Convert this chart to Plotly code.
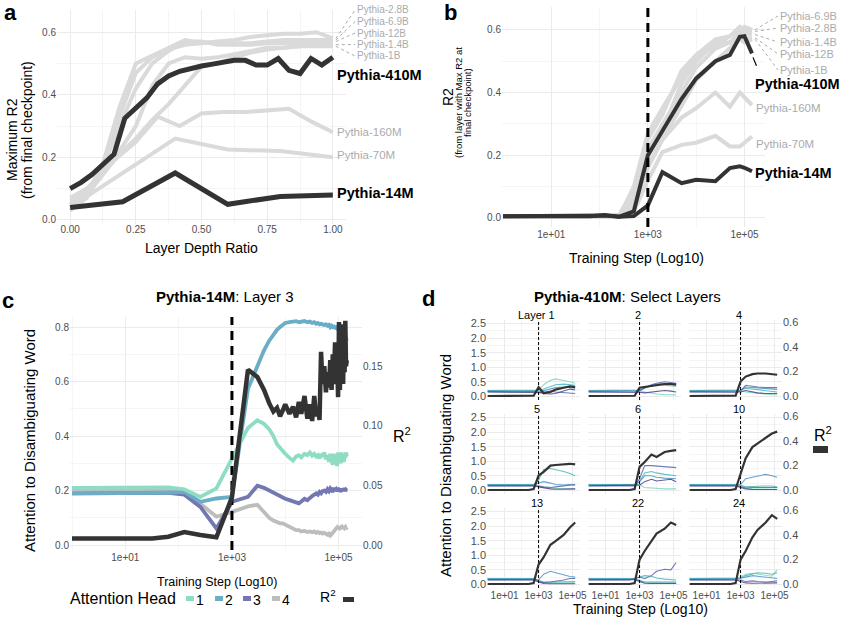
import math
import plotly.graph_objects as go

# ----------------------------------------------------------------------------
# Data
# ----------------------------------------------------------------------------

# (a) maximum R2 along the layer depth ratio, final checkpoint
DEPTH_6: list[float] = [0.0, 0.2, 0.4, 0.6, 0.8, 1.0]
DEPTH_12: list[float] = [0.0, 0.083, 0.167, 0.25, 0.333, 0.417, 0.5, 0.583, 0.667, 0.75, 0.833, 0.917, 1.0]
DEPTH_16: list[float] = [0.0, 0.0625, 0.125, 0.1875, 0.25, 0.3125, 0.375, 0.4375, 0.5,
                         0.5625, 0.625, 0.6875, 0.75, 0.8125, 0.875, 0.9375, 1.0]
DEPTH_24: list[float] = [0.0, 0.042, 0.083, 0.125, 0.167, 0.208, 0.25, 0.292, 0.333, 0.375,
                         0.417, 0.458, 0.5, 0.542, 0.583, 0.625, 0.667, 0.708, 0.75, 0.792,
                         0.833, 0.875, 0.917, 0.958, 1.0]

A_14M: list[float] = [0.04, 0.058, 0.15, 0.05, 0.075, 0.08]
A_70M: list[float] = [0.04, 0.15, 0.26, 0.225, 0.22, 0.20]
A_160M: list[float] = [0.05, 0.10, 0.19, 0.25, 0.33, 0.30, 0.34, 0.345, 0.345, 0.35, 0.355, 0.315, 0.28]
A_410M: list[float] = [0.10, 0.12, 0.145, 0.175, 0.21, 0.325, 0.36, 0.39, 0.435, 0.46,
                       0.475, 0.484, 0.492, 0.498, 0.502, 0.51, 0.51, 0.495, 0.495, 0.516,
                       0.478, 0.468, 0.516, 0.495, 0.52]
A_1B: list[float] = [0.07, 0.10, 0.15, 0.22, 0.30, 0.43, 0.50, 0.52, 0.515, 0.52,
                     0.53, 0.54, 0.55, 0.55, 0.555, 0.555, 0.555]
A_1_4B: list[float] = [0.06, 0.09, 0.15, 0.21, 0.26, 0.32, 0.37, 0.43, 0.49, 0.50,
                       0.52, 0.535, 0.545, 0.55, 0.555, 0.56, 0.56]
A_2_8B: list[float] = [0.03, 0.07, 0.16, 0.33, 0.47, 0.52, 0.545, 0.56, 0.565, 0.57,
                       0.575, 0.585, 0.59, 0.595, 0.595, 0.60, 0.58]
A_6_9B: list[float] = [0.04, 0.08, 0.18, 0.36, 0.50, 0.525, 0.55, 0.575, 0.565, 0.57,
                       0.565, 0.565, 0.57, 0.575, 0.575, 0.575, 0.575]
A_12B: list[float] = [0.05, 0.09, 0.17, 0.30, 0.42, 0.50, 0.54, 0.57, 0.57, 0.56,
                      0.56, 0.56, 0.565, 0.565, 0.565, 0.565, 0.57]

# (b) R2 of the best final layer across training steps
STEPS_B: list[int] = [1, 2, 4, 8, 16, 32, 64, 128, 256, 512, 1000, 2000, 5000, 10000,
                      25000, 50000, 80000, 100000, 143000]
B_14M: list[float] = [0.005, 0.005, 0.005, 0.005, 0.005, 0.005, 0.005, 0.009, 0.004, 0.006,
                      0.04, 0.146, 0.111, 0.122, 0.117, 0.159, 0.165, 0.16, 0.149]
B_70M: list[float] = [0.005, 0.005, 0.005, 0.005, 0.005, 0.005, 0.005, 0.006, 0.004, 0.02,
                      0.12, 0.21, 0.233, 0.24, 0.262, 0.228, 0.228, 0.24, 0.26]
B_160M: list[float] = [0.005, 0.005, 0.005, 0.005, 0.005, 0.005, 0.005, 0.006, 0.005, 0.03,
                       0.17, 0.25, 0.32, 0.35, 0.40, 0.355, 0.40, 0.385, 0.36]
B_410M: list[float] = [0.005, 0.005, 0.005, 0.005, 0.005, 0.005, 0.005, 0.008, 0.004, 0.021,
                       0.2, 0.28, 0.38, 0.445, 0.5, 0.52, 0.578, 0.58, 0.525]
B_1B: list[float] = [0.005, 0.005, 0.005, 0.005, 0.005, 0.005, 0.005, 0.005, 0.005, 0.04,
                     0.16, 0.25, 0.36, 0.44, 0.5, 0.54, 0.57, 0.56, 0.57]
B_1_4B: list[float] = [0.005, 0.005, 0.005, 0.005, 0.005, 0.005, 0.005, 0.005, 0.01, 0.08,
                       0.22, 0.3, 0.4, 0.48, 0.54, 0.56, 0.59, 0.59, 0.585]
B_2_8B: list[float] = [0.005, 0.005, 0.005, 0.005, 0.005, 0.005, 0.005, 0.005, 0.005, 0.1,
                       0.27, 0.35, 0.45, 0.51, 0.55, 0.58, 0.61, 0.60, 0.595]
B_6_9B: list[float] = [0.005, 0.005, 0.005, 0.005, 0.005, 0.005, 0.005, 0.005, 0.01, 0.09,
                       0.25, 0.33, 0.47, 0.52, 0.57, 0.58, 0.6, 0.61, 0.60]
B_12B: list[float] = [0.005, 0.005, 0.005, 0.005, 0.005, 0.005, 0.005, 0.005, 0.005, 0.06,
                      0.2, 0.28, 0.43, 0.5, 0.56, 0.56, 0.58, 0.57, 0.575]

# (c) Pythia-14M layer 3: attention per head and R2
STEPS_C: list[int] = [1, 2, 4, 8, 16, 32, 64, 128, 256, 512,
                      1000, 2000, 3000, 4000, 5000, 6000, 7000, 8000, 9000, 10000,
                      12000, 14000, 16000, 18000, 20000,
                      23000, 26000, 29000, 32000, 35000, 38000, 41000, 44000, 47000, 50000,
                      54000, 58000, 62000, 66000, 70000, 74000, 78000, 82000, 86000, 90000, 94000, 98000,
                      102000, 106000, 110000, 114000, 118000, 122000, 126000, 130000, 134000, 138000, 143000]
C_HEAD1: list[float] = [0.21, 0.21, 0.21, 0.21, 0.21, 0.21, 0.212, 0.205, 0.177, 0.208,
                        0.318, 0.43, 0.458, 0.445, 0.425, 0.40, 0.37, 0.355, 0.345, 0.335,
                        0.32, 0.31, 0.325, 0.33, 0.322,
                        0.335, 0.33, 0.34, 0.328, 0.335, 0.325, 0.33, 0.318, 0.335, 0.325,
                        0.34, 0.315, 0.33, 0.305, 0.335, 0.31, 0.295, 0.335, 0.30, 0.325, 0.29, 0.34,
                        0.31, 0.335, 0.30, 0.34, 0.315, 0.33, 0.305, 0.335, 0.32, 0.34, 0.325]
C_HEAD2: list[float] = [0.19, 0.19, 0.19, 0.19, 0.19, 0.19, 0.192, 0.195, 0.159, 0.171,
                        0.177, 0.574, 0.66, 0.715, 0.75, 0.775, 0.79, 0.80, 0.81, 0.815,
                        0.818, 0.82, 0.822, 0.818, 0.82,
                        0.822, 0.818, 0.82, 0.815, 0.818, 0.812, 0.815, 0.81, 0.812, 0.81,
                        0.808, 0.81, 0.805, 0.808, 0.80, 0.805, 0.80, 0.802, 0.798, 0.80, 0.795, 0.79,
                        0.795, 0.785, 0.79, 0.78, 0.785, 0.77, 0.775, 0.765, 0.77, 0.755, 0.75]
C_HEAD3: list[float] = [0.19, 0.19, 0.19, 0.19, 0.19, 0.19, 0.192, 0.185, 0.14, 0.061,
                        0.159, 0.177, 0.218, 0.21, 0.20, 0.19, 0.185, 0.18, 0.175, 0.17,
                        0.165, 0.16, 0.158, 0.153, 0.16,
                        0.17, 0.165, 0.175, 0.18, 0.185, 0.19, 0.185, 0.195, 0.19, 0.198,
                        0.20, 0.195, 0.205, 0.198, 0.208, 0.20, 0.195, 0.21, 0.20, 0.205, 0.198, 0.21,
                        0.20, 0.205, 0.195, 0.208, 0.198, 0.205, 0.20, 0.21, 0.198, 0.203, 0.20]
C_HEAD4: list[float] = [0.205, 0.205, 0.205, 0.205, 0.205, 0.205, 0.205, 0.20, 0.15, 0.104,
                        0.122, 0.142, 0.148, 0.12, 0.10, 0.09, 0.085, 0.08, 0.08, 0.075,
                        0.065, 0.06, 0.055, 0.055, 0.05,
                        0.052, 0.048, 0.05, 0.047, 0.05, 0.045, 0.048, 0.044, 0.046, 0.042,
                        0.045, 0.04, 0.038, 0.042, 0.035, 0.04, 0.045, 0.05, 0.055, 0.06, 0.065, 0.06,
                        0.068, 0.062, 0.065, 0.06, 0.066, 0.062, 0.068, 0.063, 0.066, 0.06, 0.065]
C_R2: list[float] = [0.0055, 0.0055, 0.0055, 0.0055, 0.0055, 0.0056, 0.007, 0.011, 0.0085, 0.0065,
                     0.04, 0.147, 0.141, 0.13, 0.119, 0.112, 0.115, 0.108, 0.113, 0.118,
                     0.11, 0.116, 0.107, 0.12, 0.11,
                     0.125, 0.106, 0.118, 0.104, 0.125, 0.108, 0.115, 0.105, 0.162, 0.135,
                     0.15, 0.128, 0.145, 0.132, 0.155, 0.13, 0.16, 0.14, 0.17, 0.135, 0.158, 0.124,
                     0.187, 0.13, 0.175, 0.14, 0.185, 0.135, 0.18, 0.145, 0.188, 0.15, 0.155]

# (d) Pythia-410M select layers: attention of a few heads and R2
STEPS_D: list[int] = [1, 32, 256, 512, 1000, 2000, 5000, 10000, 30000, 70000, 143000]
D_L1_HEADS = [[0.2, 0.2, 0.2, 0.2, 0.22, 0.4, 0.55, 0.6, 0.55, 0.5, 0.45],
              [0.2, 0.2, 0.2, 0.2, 0.2, 0.25, 0.35, 0.4, 0.42, 0.4, 0.38],
              [0.18, 0.18, 0.18, 0.17, 0.15, 0.2, 0.25, 0.3, 0.32, 0.3, 0.28],
              [0.15, 0.15, 0.15, 0.14, 0.12, 0.15, 0.18, 0.15, 0.12, 0.1, 0.1],
              [0.16, 0.16, 0.16, 0.15, 0.14, 0.1, 0.08, 0.1, 0.2, 0.25, 0.22]]
D_L1_R2 = [0.003, 0.003, 0.003, 0.005, 0.075, 0.025, 0.035, 0.055, 0.07, 0.08, 0.075]
D_L2_HEADS = [[0.2, 0.2, 0.2, 0.2, 0.2, 0.15, 0.1, 0.08, 0.06, 0.05, 0.05],
              [0.2, 0.2, 0.2, 0.2, 0.22, 0.3, 0.35, 0.4, 0.38, 0.36, 0.35],
              [0.18, 0.18, 0.18, 0.18, 0.2, 0.28, 0.38, 0.42, 0.45, 0.45, 0.42],
              [0.15, 0.15, 0.15, 0.15, 0.18, 0.3, 0.4, 0.45, 0.5, 0.48, 0.45],
              [0.16, 0.16, 0.16, 0.16, 0.14, 0.12, 0.15, 0.18, 0.2, 0.18, 0.15]]
D_L2_R2 = [0.003, 0.003, 0.003, 0.005, 0.07, 0.075, 0.085, 0.09, 0.1, 0.1, 0.095]
D_L4_HEADS = [[0.2, 0.2, 0.2, 0.2, 0.2, 0.15, 0.12, 0.1, 0.08, 0.06, 0.05],
              [0.2, 0.2, 0.2, 0.2, 0.22, 0.28, 0.25, 0.22, 0.2, 0.18, 0.15],
              [0.18, 0.18, 0.18, 0.18, 0.2, 0.32, 0.3, 0.28, 0.26, 0.25, 0.24],
              [0.15, 0.15, 0.15, 0.15, 0.18, 0.38, 0.35, 0.32, 0.3, 0.3, 0.3],
              [0.16, 0.16, 0.16, 0.16, 0.15, 0.2, 0.15, 0.12, 0.1, 0.1, 0.1]]
D_L4_R2 = [0.003, 0.003, 0.003, 0.006, 0.12, 0.16, 0.18, 0.185, 0.185, 0.18, 0.175]
D_L5_HEADS = [[0.2, 0.2, 0.2, 0.2, 0.15, 0.1, 0.08, 0.06, 0.05, 0.05, 0.05],
              [0.2, 0.2, 0.2, 0.2, 0.35, 0.72, 0.75, 0.72, 0.65, 0.58, 0.5],
              [0.18, 0.18, 0.18, 0.18, 0.25, 0.3, 0.25, 0.2, 0.18, 0.2, 0.18],
              [0.15, 0.15, 0.15, 0.15, 0.15, 0.12, 0.1, 0.12, 0.15, 0.18, 0.2],
              [0.16, 0.16, 0.16, 0.16, 0.12, 0.08, 0.05, 0.04, 0.04, 0.05, 0.05]]
D_L5_R2 = [0.003, 0.003, 0.003, 0.01, 0.12, 0.15, 0.2, 0.205, 0.21, 0.215, 0.21]
D_L6_HEADS = [[0.2, 0.2, 0.2, 0.2, 0.2, 0.1, 0.08, 0.06, 0.05, 0.05, 0.05],
              [0.2, 0.2, 0.2, 0.2, 0.3, 0.6, 0.65, 0.6, 0.55, 0.52, 0.5],
              [0.18, 0.18, 0.18, 0.18, 0.3, 0.5, 0.5, 0.45, 0.42, 0.42, 0.4],
              [0.15, 0.15, 0.15, 0.15, 0.4, 0.85, 0.85, 0.84, 0.82, 0.8, 0.78],
              [0.16, 0.16, 0.16, 0.16, 0.18, 0.3, 0.38, 0.32, 0.35, 0.38, 0.3]]
D_L6_R2 = [0.003, 0.003, 0.003, 0.01, 0.19, 0.23, 0.29, 0.27, 0.31, 0.32, 0.325]
D_L10_HEADS = [[0.2, 0.2, 0.2, 0.2, 0.15, 0.08, 0.05, 0.05, 0.04, 0.04, 0.04],
               [0.2, 0.2, 0.2, 0.2, 0.18, 0.12, 0.12, 0.14, 0.15, 0.15, 0.12],
               [0.18, 0.18, 0.18, 0.18, 0.2, 0.4, 0.45, 0.5, 0.55, 0.5, 0.45],
               [0.15, 0.15, 0.15, 0.15, 0.12, 0.08, 0.1, 0.1, 0.12, 0.1, 0.1],
               [0.16, 0.16, 0.16, 0.16, 0.1, 0.05, 0.03, 0.03, 0.03, 0.03, 0.03]]
D_L10_R2 = [0.003, 0.003, 0.003, 0.01, 0.14, 0.26, 0.35, 0.38, 0.43, 0.46, 0.475]
D_L13_HEADS = [[0.2, 0.2, 0.2, 0.2, 0.15, 0.05, 0.05, 0.05, 0.05, 0.05, 0.05],
               [0.2, 0.2, 0.2, 0.2, 0.12, 0.08, 0.08, 0.08, 0.08, 0.1, 0.1],
               [0.18, 0.18, 0.18, 0.18, 0.15, 0.35, 0.45, 0.4, 0.32, 0.27, 0.25],
               [0.15, 0.15, 0.15, 0.15, 0.1, 0.06, 0.08, 0.1, 0.15, 0.2, 0.2],
               [0.16, 0.16, 0.16, 0.16, 0.08, 0.03, 0.02, 0.02, 0.02, 0.02, 0.02]]
D_L13_R2 = [0.003, 0.003, 0.003, 0.01, 0.16, 0.22, 0.32, 0.35, 0.4, 0.46, 0.5]
D_L22_HEADS = [[0.2, 0.2, 0.2, 0.2, 0.15, 0.06, 0.05, 0.05, 0.05, 0.05, 0.05],
               [0.2, 0.2, 0.2, 0.2, 0.25, 0.3, 0.28, 0.22, 0.18, 0.15, 0.15],
               [0.18, 0.18, 0.18, 0.18, 0.12, 0.08, 0.08, 0.08, 0.08, 0.08, 0.08],
               [0.15, 0.15, 0.15, 0.2, 0.25, 0.2, 0.3, 0.45, 0.52, 0.5, 0.75],
               [0.16, 0.16, 0.16, 0.16, 0.1, 0.04, 0.03, 0.03, 0.03, 0.03, 0.03]]
D_L22_R2 = [0.003, 0.003, 0.003, 0.01, 0.2, 0.27, 0.35, 0.41, 0.45, 0.5, 0.48]
D_L24_HEADS = [[0.2, 0.2, 0.2, 0.2, 0.25, 0.35, 0.38, 0.35, 0.3, 0.28, 0.5],
               [0.2, 0.2, 0.2, 0.2, 0.22, 0.3, 0.35, 0.4, 0.38, 0.35, 0.4],
               [0.18, 0.18, 0.18, 0.18, 0.2, 0.25, 0.3, 0.28, 0.25, 0.22, 0.2],
               [0.15, 0.15, 0.15, 0.15, 0.15, 0.1, 0.12, 0.1, 0.08, 0.1, 0.12],
               [0.16, 0.16, 0.16, 0.16, 0.1, 0.05, 0.04, 0.04, 0.05, 0.06, 0.05]]
D_L24_R2 = [0.003, 0.003, 0.003, 0.01, 0.2, 0.27, 0.38, 0.44, 0.5, 0.56, 0.53]

D_STRIPS: list[str] = ["Layer 1", "2", "4", "5", "6", "10", "13", "22", "24"]
D_HEADS = [D_L1_HEADS, D_L2_HEADS, D_L4_HEADS, D_L5_HEADS, D_L6_HEADS,
           D_L10_HEADS, D_L13_HEADS, D_L22_HEADS, D_L24_HEADS]
D_R2 = [D_L1_R2, D_L2_R2, D_L4_R2, D_L5_R2, D_L6_R2, D_L10_R2, D_L13_R2, D_L22_R2, D_L24_R2]

KEY_STEP: int = 1000  # dashed reference step
LOG_TICKS: list[int] = [10, 1000, 100000]
LOG_TICKTEXT: list[str] = ["1e+01", "1e+03", "1e+05"]
LOG_MINOR: list[int] = [1, 100, 10000]

# ----------------------------------------------------------------------------
# Style and geometry (pixels of the 847x622 page)
# ----------------------------------------------------------------------------
W, H = 847, 622
FONT = "Liberation Sans, Arial, sans-serif"
TICK = "#4D4D4D"
GRID = "#EBEBEB"
GRID_MINOR = "#F5F5F5"
GREY_LINE = "#DADADA"
DARK = "#333333"
LABEL_GREY = "#ABABAB"
HEAD_COLORS = ["#8FDCC4", "#6AADC6", "#7477B1", "#BDBDBD"]
D_COLORS = ["#7ED8BC", "#4DB6B9", "#4B95C4", "#5868AC", "#4C3F86"]

A_X, A_XR, A_Y, A_YR = (57, 346), (-0.05, 1.05), (10, 224), (-0.013, 0.671)
B_X, B_XR, B_Y, B_YR = (502, 765), (-0.02, 5.425), (7, 227), (-0.029, 0.673)
C_X, C_XR, C_Y, C_YR = (70, 362), (-0.0375, 5.44), (317, 550), (-0.018, 0.837)
C_Y2R = (-0.0041, 0.1912)
D_COL_X0 = [487, 588, 689]
D_ROW_Y0 = [320, 414, 508]
D_W, D_H = 93, 80
D_XR, D_YR, D_Y2R = (-0.0375, 5.44), (-0.125, 2.625), (-0.0294, 0.6176)


def dom_x(x0: float, x1: float) -> list[float]:
	return [x0 / W, x1 / W]


def dom_y(y0: float, y1: float) -> list[float]:
	return [1 - y1 / H, 1 - y0 / H]


def to_px(x: float, y: float, gx, gxr, gy, gyr, log_x: bool = False) -> tuple[float, float]:
	""" Convert a data point to page pixels for a panel (used for label leader lines). """
	xv = math.log10(x) if log_x else x
	px = gx[0] + (xv - gxr[0]) / (gxr[1] - gxr[0]) * (gx[1] - gx[0])
	py = gy[1] - (y - gyr[0]) / (gyr[1] - gyr[0]) * (gy[1] - gy[0])
	return px, py


def axis(domain, rng, anchor, tickvals=None, ticktext=None, minor=None, log=False,
         labels=True, size=10, fmt=None, grid=True, **kw) -> dict:
	d = dict(range=list(rng), anchor=anchor, type="log" if log else "linear",
	         showline=False, zeroline=False, ticks="", showgrid=grid, gridcolor=GRID, gridwidth=1,
	         showticklabels=labels, tickfont=dict(family=FONT, size=size, color=TICK), fixedrange=True)
	if domain is not None:
		d["domain"] = domain
	if tickvals is not None:
		d.update(tickmode="array", tickvals=tickvals)
	if ticktext is not None:
		d["ticktext"] = ticktext
	if fmt:
		d["tickformat"] = fmt
	if minor is not None and grid:
		d["minor"] = dict(tickmode="array", tickvals=minor, showgrid=True, gridcolor=GRID_MINOR,
		                  gridwidth=0.8, ticks="")
	d.update(kw)
	return d


fig = go.Figure()


def line(x, y, xa, ya, color, width, dash=None, opacity=1.0) -> None:
	fig.add_trace(go.Scatter(x=x, y=y, mode="lines", xaxis=xa, yaxis=ya, opacity=opacity,
	                         line=dict(color=color, width=width, dash=dash),
	                         hoverinfo="skip", showlegend=False))


# ---- panel a ----
for depth, vals in [(DEPTH_16, A_1B), (DEPTH_16, A_1_4B), (DEPTH_16, A_2_8B), (DEPTH_16, A_6_9B),
                    (DEPTH_16, A_12B), (DEPTH_6, A_70M), (DEPTH_12, A_160M)]:
	line(depth, vals, "x", "y", GREY_LINE, 4)
line(DEPTH_6, A_14M, "x", "y", DARK, 5)
line(DEPTH_24, A_410M, "x", "y", DARK, 5)

# ---- panel b ----
for vals in [B_1B, B_1_4B, B_2_8B, B_6_9B, B_12B, B_70M, B_160M]:
	line(STEPS_B, vals, "x2", "y2", GREY_LINE, 4)
line(STEPS_B, B_14M, "x2", "y2", DARK, 4)
line(STEPS_B, B_410M, "x2", "y2", DARK, 4)
line([KEY_STEP, KEY_STEP], list(B_YR), "x2", "y2", "black", 3, dash="9px,6px")

# ---- panel c ----
for vals, col in zip([C_HEAD4, C_HEAD3, C_HEAD2, C_HEAD1], HEAD_COLORS[::-1]):
	line(STEPS_C, vals, "x3", "y3", col, 3.8)
line([KEY_STEP, KEY_STEP], list(C_YR), "x3", "y3", "black", 3, dash="9px,6px")
line(STEPS_C, C_R2, "x3", "y4", DARK, 4.5)

# ---- panel d ----
for k in range(9):
	xa, ya, ya2 = f"x{4 + k}", f"y{5 + 2 * k}", f"y{6 + 2 * k}"
	for vals, col in zip(D_HEADS[k], D_COLORS):
		line(STEPS_D, vals, xa, ya, col, 1.1, opacity=0.85)
	line([KEY_STEP, KEY_STEP], list(D_YR), xa, ya, "black", 1, dash="3px,2px")
	line(STEPS_D, D_R2[k], xa, ya2, DARK, 2.2)

# ----------------------------------------------------------------------------
# Axes
# ----------------------------------------------------------------------------
layout: dict = dict(width=W, height=H, margin=dict(l=0, r=0, t=0, b=0), template="none",
                    paper_bgcolor="white", plot_bgcolor="white", showlegend=False,
                    font=dict(family=FONT, color="black"))

layout["xaxis"] = axis(dom_x(*A_X), A_XR, "y", [0, 0.25, 0.5, 0.75, 1.0],
                       ["0.00", "0.25", "0.50", "0.75", "1.00"], [0.125, 0.375, 0.625, 0.875],
                       ticklabelstandoff=-2)
layout["yaxis"] = axis(dom_y(*A_Y), A_YR, "x", [0, 0.2, 0.4, 0.6], None, [0.1, 0.3, 0.5], fmt=".1f")

layout["xaxis2"] = axis(dom_x(*B_X), B_XR, "y2", LOG_TICKS, LOG_TICKTEXT, LOG_MINOR, log=True)
layout["yaxis2"] = axis(dom_y(*B_Y), B_YR, "x2", [0, 0.2, 0.4, 0.6], None, [0.1, 0.3, 0.5], fmt=".1f")

layout["xaxis3"] = axis(dom_x(*C_X), C_XR, "y3", LOG_TICKS, LOG_TICKTEXT, LOG_MINOR, log=True)
layout["yaxis3"] = axis(dom_y(*C_Y), C_YR, "x3", [0, 0.2, 0.4, 0.6, 0.8], None,
                        [0.1, 0.3, 0.5, 0.7], fmt=".1f")
layout["yaxis4"] = axis(None, C_Y2R, "x3", [0, 0.05, 0.1, 0.15], None, None, fmt=".2f",
                        grid=False, overlaying="y3", side="right")

for k in range(9):
	r, c = divmod(k, 3)
	x0, y0 = D_COL_X0[c], D_ROW_Y0[r]
	xi, yi, yi2 = 4 + k, 5 + 2 * k, 6 + 2 * k
	layout[f"xaxis{xi}"] = axis(dom_x(x0, x0 + D_W), D_XR, f"y{yi}", LOG_TICKS, LOG_TICKTEXT,
	                            LOG_MINOR, log=True, labels=(r == 2), size=10)
	layout[f"yaxis{yi}"] = axis(dom_y(y0, y0 + D_H), D_YR, f"x{xi}", [0, 0.5, 1.0, 1.5, 2.0, 2.5],
	                            None, [0.25, 0.75, 1.25, 1.75, 2.25], labels=(c == 0), size=11, fmt=".1f")
	layout[f"yaxis{yi2}"] = axis(None, D_Y2R, f"x{xi}", [0, 0.2, 0.4, 0.6], None, None,
	                             labels=(c == 2), size=11, fmt=".1f", grid=False,
	                             overlaying=f"y{yi}", side="right")

# ----------------------------------------------------------------------------
# Texts, leader lines and manual legends
# ----------------------------------------------------------------------------
ann: list[dict] = []
shapes: list[dict] = []


def text(s, x, y, size, color="black", xanchor="center", angle=0) -> None:
	ann.append(dict(text=s, x=x / W, y=1 - y / H, xref="paper", yref="paper", showarrow=False,
	                xanchor=xanchor, yanchor="middle", textangle=angle, borderpad=0,
	                font=dict(family=FONT, size=size, color=color)))


def seg(x0, y0, x1, y1, color, dash="dot", width=0.9) -> None:
	shapes.append(dict(type="line", xref="paper", yref="paper", x0=x0 / W, y0=1 - y0 / H,
	                   x1=x1 / W, y1=1 - y1 / H, line=dict(color=color, width=width, dash=dash)))


def rect(x0, y0, x1, y1, color) -> None:
	shapes.append(dict(type="rect", xref="paper", yref="paper", x0=x0 / W, y0=1 - y1 / H,
	                   x1=x1 / W, y1=1 - y0 / H, line=dict(width=0), fillcolor=color))


# panel letters
for letter, x, y in [("a", 10, 12), ("b", 450, 12), ("c", 8, 300), ("d", 428, 298)]:
	text(f"<b>{letter}</b>", x, y, 22)

# panel a texts
text("Layer Depth Ratio", 201, 248, 14)
text("Maximum R2", 12, 140, 14, angle=-90)
text("(from final checkpoint)", 27, 130, 14, angle=-90)
text("<b>Pythia-410M</b>", 336, 75, 14.5, xanchor="left")
text("<b>Pythia-14M</b>", 336, 193, 14.5, xanchor="left")
text("Pythia-160M", 336, 132, 11.5, LABEL_GREY, xanchor="left")
text("Pythia-70M", 336, 155, 11.5, LABEL_GREY, xanchor="left")
for name, vals, ly in [("Pythia-2.8B", A_2_8B, 10), ("Pythia-6.9B", A_6_9B, 21.5), ("Pythia-12B", A_12B, 33),
                       ("Pythia-1.4B", A_1_4B, 44.5), ("Pythia-1B", A_1B, 56)]:
	px, py = to_px(DEPTH_16[-1], vals[-1], A_X, A_XR, A_Y, A_YR)
	seg(px + 3, py, 355, ly, "#A0A0A0")
	text(name, 356, ly, 10, LABEL_GREY, xanchor="left")

# panel b texts
text("Training Step (Log10)", 636, 258, 14)
text("R2", 448, 97, 14, angle=-90)
text("(from layer with Max R2 at", 458, 103, 9.5, angle=-90)
text("final checkpoint)", 467, 103, 9.5, angle=-90)
for name, vals, ly in [("Pythia-6.9B", B_6_9B, 16), ("Pythia-2.8B", B_2_8B, 28), ("Pythia-1.4B", B_1_4B, 42),
                       ("Pythia-12B", B_12B, 54), ("Pythia-1B", B_1B, 70)]:
	px, py = to_px(STEPS_B[-1], vals[-1], B_X, B_XR, B_Y, B_YR, log_x=True)
	seg(px + 3, py, 778, ly, "#A0A0A0")
	text(name, 779, ly, 11, LABEL_GREY, xanchor="left")
px, py = to_px(STEPS_B[-1], B_410M[-1], B_X, B_XR, B_Y, B_YR, log_x=True)
seg(px + 1, py + 4, 760, 74, "black", dash="dash", width=1.2)
text("<b>Pythia-410M</b>", 754, 84, 14.5, xanchor="left")
text("Pythia-160M", 755, 108, 11.5, LABEL_GREY, xanchor="left")
text("Pythia-70M", 755, 144, 11.5, LABEL_GREY, xanchor="left")
text("<b>Pythia-14M</b>", 754, 173, 14.5, xanchor="left")

# panel c texts and legend
text("<b>Pythia-14M</b>: Layer 3", 225, 296, 15)
text("Attention to Disambiguating Word", 29, 441, 15, angle=-90)
text("R<sup>2</sup>", 402, 435, 16)
text("Training Step (Log10)", 217, 582, 12.5)
text("Attention Head", 123, 598, 16)
for i, (kx, col) in enumerate(zip([186, 215, 243, 272], HEAD_COLORS)):
	rect(kx, 596, kx + 8, 601, col)
	text(str(i + 1), kx + 14, 600, 14)
text("R<sup>2</sup>", 328, 596, 14)
rect(343, 597, 354, 602, DARK)

# panel d texts and legend
text("<b>Pythia-410M</b>: Select Layers", 627, 296, 15)
for k, strip in enumerate(D_STRIPS):
	r, c = divmod(k, 3)
	text(strip, D_COL_X0[c] + D_W / 2 + 3, D_ROW_Y0[r] - 5.5, 11)
text("Attention to Disambiguating Word", 446, 466, 15, angle=-90)
text("Training Step (Log10)", 640, 609, 14)
text("R<sup>2</sup>", 823, 434, 16)
rect(813, 446, 828, 453, DARK)

layout["annotations"] = ann
layout["shapes"] = shapes
fig.update_layout(**layout)

# the page body keeps its default 8px margin otherwise
fig.write_html("out.html", config={"displayModeBar": False},
               post_script="document.body.style.margin = '0';")
